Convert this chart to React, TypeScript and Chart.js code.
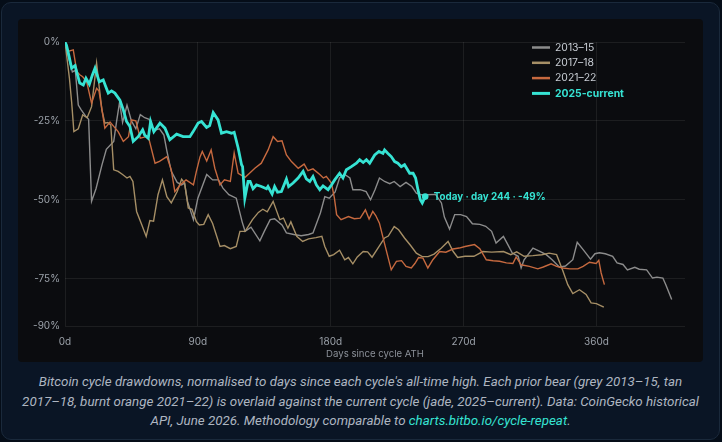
import React, { useEffect, useRef } from "react";
import { Chart, registerables } from "chart.js";

Chart.register(...registerables);

// ---------- data ----------
const xTickDays = [0, 90, 180, 270, 360];
const yTickPcts = [0, -25, -50, -75, -90];

const seriesLabels = ["2013–15", "2017–18", "2021–22", "2025-current"];
const seriesColors = ["#8c8c8c", "#a68f66", "#c6693f", "#36e3d3"];

const days2013 = [0, 3, 5, 7, 9, 11, 14, 16, 18, 21, 25, 28, 33, 35, 37, 39, 42, 45, 48, 51, 54, 57, 60, 64, 67, 69, 72, 76, 79, 81, 83, 87, 90, 96, 100, 104, 107, 111, 116, 120, 122, 126, 132, 135, 139, 142, 147, 150, 155, 160, 165, 168, 173, 176, 179, 183, 186, 189.5, 193, 195, 200, 204, 207, 210, 213, 216.5, 220, 223, 227, 231, 235, 238, 241, 245, 251, 255, 257, 260.5, 264, 268, 272, 276, 281, 285, 289, 292, 297, 300, 303, 307, 309, 311, 317, 322, 326, 330, 335, 339, 344, 347, 351, 356, 359, 362, 366, 371, 374, 378, 381, 386, 389, 394, 398, 401, 405, 407, 411];
const pct2013 = [0, -6, -9.5, -9, -20, -21.5, -23.5, -24.5, -50.5, -46.5, -39, -34, -31.5, -25, -19, -25.5, -20, -25, -27.5, -23, -24, -24.5, -28, -27.5, -29.5, -34.5, -41, -44.5, -45.3, -44.7, -50.5, -56.3, -49.5, -42, -43.7, -43.7, -46.3, -48.4, -49.5, -57, -60, -58.7, -63, -60, -56.3, -56, -58, -60.5, -61, -61.4, -61, -60.5, -54.2, -49, -49.5, -47.5, -43.1, -42, -43.1, -46.8, -46.8, -47.4, -50, -46.8, -43.1, -44.2, -44.9, -44.2, -45.8, -44.5, -45.8, -47.9, -48.4, -48.4, -48.3, -51, -55.5, -59.3, -54.7, -54.7, -55.3, -57.6, -57.8, -58.4, -60, -63.7, -61.6, -64.2, -66.9, -67.9, -71.6, -69, -65.3, -66.4, -67.4, -69, -71.4, -71, -69, -63.5, -65.8, -68.8, -67.1, -66.8, -67.1, -67.9, -70, -70.5, -72.2, -71.4, -72, -72.2, -74.8, -74.5, -74.8, -76.9, -81.6];

const days2017 = [0, 3, 4.5, 6, 9, 12, 15, 18, 21.4, 23, 25, 27, 29, 31, 33, 36, 39, 42, 44, 46, 48.5, 52, 55, 57.5, 60, 63, 66, 69, 72, 76, 79, 81, 83.5, 86, 89, 91, 94, 97, 100, 105, 108, 112, 116, 118.5, 122, 127, 131, 134, 137, 141, 145.5, 148, 151, 153, 157, 161, 165, 170, 174, 176, 179, 182, 186, 189.5, 192, 195, 198, 202, 205, 208, 212, 216.5, 219, 223, 226, 230, 234, 238, 242, 246, 250, 255, 259.5, 263, 266, 271, 277, 283, 289, 297, 302, 306, 311, 317, 323, 328, 333, 337, 340.6, 344, 348.5, 353, 356.4, 360, 365];
const pct2017 = [0, -11.5, -19, -28.4, -27.5, -23.1, -24, -20.5, -6.7, -13.6, -21.5, -25.7, -25.5, -26.3, -40.5, -41, -42, -43.1, -42.6, -44.2, -53.7, -57.9, -61.6, -56.6, -56.8, -48.4, -43.7, -49, -51, -47.4, -43.5, -44.7, -52.6, -53, -56.9, -58, -57.8, -54.7, -57.5, -64.8, -64.5, -65.5, -64.8, -60, -60, -56.3, -54, -53, -53.8, -50.5, -56.3, -55.8, -59, -57, -61.6, -63.2, -62.4, -62, -61.6, -64.8, -67.9, -67.4, -66, -69, -68.3, -70.3, -68.1, -66.4, -66.5, -68.2, -65.3, -62.1, -61.5, -58.5, -59.5, -62.1, -64.4, -66.9, -68, -68, -67.2, -65.3, -63.2, -66.4, -68.3, -67.9, -67.9, -66.4, -66.6, -66.4, -67.4, -66.5, -67.9, -67.7, -67.4, -66.9, -67.4, -72.2, -76.9, -79.7, -78.5, -80, -82.7, -82.9, -84];

const days2021 = [0, 2, 5.6, 8, 10, 12, 14.7, 18, 21.4, 23, 27, 30.5, 34, 36, 39.5, 43, 45, 48, 51, 55, 57, 61, 64, 69, 72, 74.4, 78, 82, 87, 89, 91.4, 93, 96, 99, 101.5, 105, 108, 112, 114.6, 117.3, 122, 125, 128.6, 133, 137.6, 141, 144, 147, 150, 153.4, 158, 162, 164.6, 168, 172.6, 175, 177, 180.5, 182.5, 184, 187, 192, 196, 200, 203.5, 206, 208.5, 210.5, 213, 216, 221, 224.5, 228, 231, 234.6, 237, 239.5, 242.5, 245.8, 249.2, 253.8, 258, 262.8, 267, 271, 277.4, 281, 285.4, 290, 294.4, 299, 303.4, 305.6, 309, 314.6, 320.3, 324, 329.3, 333, 337.2, 342, 347.4, 351, 355.3, 359.8, 361.6, 363.2, 365.4];
const pct2021 = [0, -3, -2.5, -9.4, -10.4, -11, -12.6, -19.4, -14.7, -15.5, -27.3, -25.4, -27.3, -28.4, -31.5, -30, -24.7, -25, -30.5, -30, -31, -38.4, -37.8, -36.3, -40.5, -47.4, -45.3, -43.7, -45.3, -41, -36.5, -34.7, -37.7, -34.2, -40, -45.3, -43.7, -44.2, -35.2, -41.6, -42.9, -41.6, -40, -38.4, -34.2, -30, -31.5, -31.3, -35.8, -37.9, -40, -38.7, -40.8, -40.2, -42, -43.1, -42.6, -44.7, -49.5, -54.7, -56.3, -55.3, -56, -55.8, -53.2, -56.1, -53.7, -55, -57.4, -63, -72.2, -69.5, -69.3, -71.1, -71.6, -70.2, -68.3, -68.5, -71.6, -69, -66.4, -66.6, -65.6, -65.3, -64.8, -64.2, -65.5, -69, -69.3, -69.5, -70, -70.2, -68.1, -70.6, -71.1, -71.9, -71.3, -70.3, -71.1, -71.6, -71.9, -71.9, -71.1, -69.8, -70.2, -69.2, -73.2, -76.9];

const days2025 = [0, 1, 2.5, 4.5, 6.8, 8.5, 10, 12.4, 14.2, 16.5, 18.5, 20.3, 23.2, 25.9, 27.5, 29.3, 31.5, 33.8, 37.2, 39.5, 41.7, 44, 46.2, 49.6, 52.6, 54, 56.4, 58, 60.2, 64.3, 67.7, 71, 75.6, 80, 84.6, 86.8, 90.2, 92.5, 95.9, 98, 100.4, 103.7, 106, 109.4, 112.8, 114.6, 117.3, 119.6, 120.3, 121.8, 124, 125.4, 127.4, 129.7, 133, 136.5, 137.5, 140.3, 142, 144, 146.6, 150, 151.5, 154.5, 157.9, 161.3, 163.5, 165.8, 168, 170.3, 172.6, 174.8, 178.2, 180.5, 182.7, 186, 188.3, 190.6, 194, 197.4, 199.6, 202, 204.2, 206.4, 209.8, 212.7, 215.4, 216.5, 218.8, 221, 223.3, 225.5, 227.8, 230, 233.5, 235.8, 237.5, 239.1, 240.7, 242, 244];
const pct2025 = [0, -1, -4, -8.3, -7.5, -10.5, -13, -13.6, -11.5, -13.4, -10.5, -8.3, -12.6, -12, -14, -16.2, -15.5, -16.2, -18.4, -21.5, -25.2, -26.8, -31.5, -30, -27.8, -29.5, -30.5, -25.2, -28.4, -25.7, -27.3, -31, -29.2, -30, -30, -28.4, -25.7, -25.2, -27.1, -26.5, -22.4, -24.7, -28.9, -28.4, -28.9, -28.6, -33.6, -38.9, -39.5, -49.5, -44.2, -44.2, -46.5, -45.3, -45.8, -46.5, -45.8, -48.2, -45.8, -47.6, -47.4, -43.4, -45.8, -44.7, -43.1, -41, -43.4, -44.2, -42.6, -45.3, -46.8, -45.6, -46.8, -45.3, -43.7, -41.6, -43.1, -40.5, -39.5, -38.4, -37.3, -38.2, -37.3, -38.4, -35.8, -34.7, -35.3, -34.2, -35.3, -36.3, -37.9, -38.4, -39.5, -38.9, -41.6, -41.6, -43.1, -46.8, -50, -51, -49];

const todayDay = 244;
const todayPct = -49;

// ---------- helpers ----------
const FONT = "Inter, 'Noto Sans', 'DejaVu Sans', sans-serif";
const toPoints = (xs: number[], ys: number[]) => xs.map((x, i) => ({ x, y: ys[i] }));

const overlayPlugin = {
  id: "cycleOverlay",
  afterDatasetsDraw(chart: any) {
    const { ctx, chartArea, scales } = chart;
    ctx.save();
    // legend
    const lx = chartArea.right - 153;
    const ly = chartArea.top + 5.5;
    const rowH = 15.3;
    seriesLabels.forEach((label, i) => {
      const y = ly + i * rowH;
      const current = i === seriesLabels.length - 1;
      ctx.strokeStyle = seriesColors[i];
      ctx.lineWidth = current ? 3 : 2.5;
      ctx.beginPath();
      ctx.moveTo(lx, y);
      ctx.lineTo(lx + 18, y);
      ctx.stroke();
      ctx.fillStyle = current ? seriesColors[3] : "#c9ced5";
      ctx.font = `${current ? "bold " : ""}10.4px ${FONT}`;
      ctx.textBaseline = "middle";
      ctx.textAlign = "left";
      ctx.fillText(label, lx + 23, y);
    });
    // today marker
    const px = scales.x.getPixelForValue(todayDay);
    const py = scales.y.getPixelForValue(todayPct);
    ctx.fillStyle = seriesColors[3];
    ctx.beginPath();
    ctx.arc(px, py, 3.3, 0, Math.PI * 2);
    ctx.fill();
    ctx.font = `bold 9.8px ${FONT}`;
    ctx.textBaseline = "middle";
    ctx.textAlign = "left";
    ctx.fillText(`Today · day ${todayDay} · ${todayPct}%`, px + 8.5, py + 0.5);
    ctx.restore();
  },
};

export default function App() {
  const canvasRef = useRef<HTMLCanvasElement>(null);

  useEffect(() => {
    document.body.style.margin = "0";
    document.body.style.background = "#050d18";
    const canvas = canvasRef.current;
    if (!canvas) return;
    const gridColor = "rgba(255,255,255,0.075)";
    const tickColor = "#9ba1a9";
    const makeSet = (i: number, xs: number[], ys: number[], order: number) => ({
      label: seriesLabels[i],
      data: toPoints(xs, ys),
      borderColor: seriesColors[i],
      backgroundColor: seriesColors[i],
      borderWidth: i === 3 ? 2.8 : 1.4,
      pointRadius: 0,
      tension: 0,
      fill: false,
      order,
    });
    const chart = new Chart(canvas, {
      type: "line",
      data: {
        datasets: [
          makeSet(0, days2013, pct2013, 3),
          makeSet(1, days2017, pct2017, 2),
          makeSet(2, days2021, pct2021, 1),
          makeSet(3, days2025, pct2025, 0),
        ],
      },
      options: {
        animation: false,
        responsive: false,
        events: [],
        layout: { padding: { left: 0, right: 18, top: 23, bottom: 0 } },
        plugins: {
          legend: { display: false },
          tooltip: { enabled: false },
        },
        scales: {
          x: {
            type: "linear",
            min: 0,
            max: 420,
            afterBuildTicks: (s: any) => {
              s.ticks = xTickDays.map((v) => ({ value: v }));
            },
            afterFit: (s: any) => {
              s.height = 36;
            },
            grid: { color: gridColor, drawTicks: false },
            border: { display: false },
            ticks: {
              padding: 10,
              color: tickColor,
              font: { family: FONT, size: 10 },
              callback: (v: any) => `${v}d`,
            },
            title: {
              display: true,
              text: "Days since cycle ATH",
              color: "#8b9098",
              font: { family: FONT, size: 9.6 },
              padding: { top: 0, bottom: 2 },
            },
          },
          y: {
            min: -90,
            max: 0,
            afterBuildTicks: (s: any) => {
              s.ticks = yTickPcts.map((v) => ({ value: v }));
            },
            afterFit: (s: any) => {
              s.width = 47;
            },
            grid: { color: gridColor, drawTicks: false },
            border: { display: false },
            ticks: {
              padding: 5,
              color: tickColor,
              font: { family: FONT, size: 10 },
              callback: (v: any) => `${v}%`,
            },
          },
        },
      },
      plugins: [overlayPlugin],
    } as any);
    return () => chart.destroy();
  }, []);

  return (
    <div style={{ position: "relative", width: 722, height: 442, background: "#050d18", overflow: "hidden" }}>
      <div
        style={{
          position: "absolute",
          left: 1,
          top: 2,
          width: 719,
          height: 438,
          boxSizing: "border-box",
          background: "#0a1525",
          border: "1px solid #1a293b",
          borderRadius: 10,
        }}
      >
        <div
          style={{
            position: "absolute",
            left: 16,
            top: 16,
            width: 685,
            height: 343,
            background: "#0b0c0f",
            borderRadius: 4,
            overflow: "hidden",
          }}
        >
          <canvas ref={canvasRef} width={685} height={343} style={{ display: "block", width: 685, height: 343 }} />
        </div>
        <div
          style={{
            position: "absolute",
            left: 0,
            right: 0,
            top: 369,
            textAlign: "center",
            fontFamily: "Roboto, 'Noto Sans', sans-serif",
            fontStyle: "italic",
            fontSize: 13.35,
            lineHeight: "19.7px",
            color: "#aeb6c1",
            whiteSpace: "nowrap",
          }}
        >
          Bitcoin cycle drawdowns, normalised to days since each cycle's all-time high. Each prior bear (grey 2013–15, tan
          <br />
          2017–18, burnt orange 2021–22) is overlaid against the current cycle (jade, 2025–current). Data: CoinGecko historical
          <br />
          API, June 2026. Methodology comparable to{" "}
          <span style={{ color: "#36e3d3" }}>charts.bitbo.io/cycle-repeat</span>.
        </div>
      </div>
    </div>
  );
}
